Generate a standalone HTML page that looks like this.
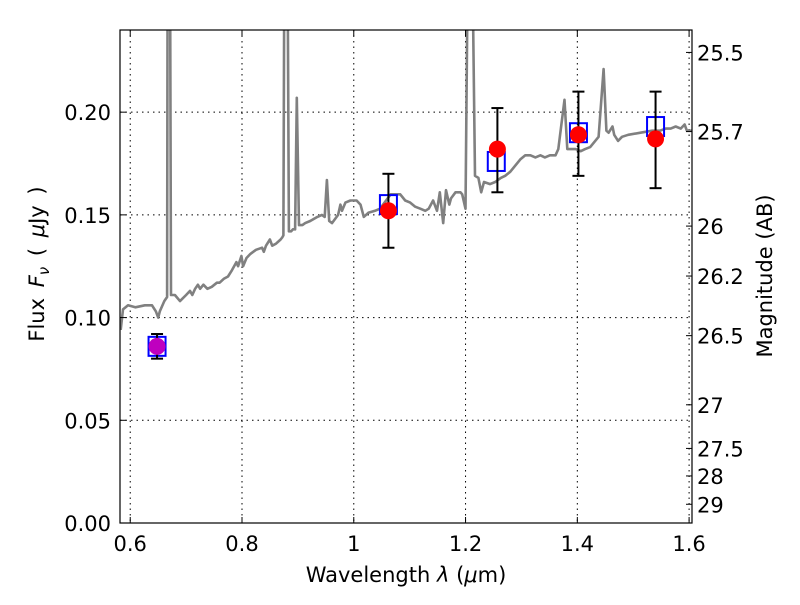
<!DOCTYPE html>
<html><head><meta charset="utf-8"><style>
body{margin:0;background:#fff;}
svg text{font-family:"DejaVu Sans","Liberation Sans",sans-serif;fill:#000;}
</style></head><body>
<svg id="chart" width="800" height="600" xmlns="http://www.w3.org/2000/svg">
<defs><clipPath id="clip"><rect x="120" y="30" width="572" height="493"/></clipPath></defs>
<rect width="800" height="600" fill="#fff"/>
<g id="grid"></g>
<g id="spec" clip-path="url(#clip)"></g>
<g id="marks"></g>
<rect x="120" y="30" width="572" height="493" fill="none" stroke="#000" stroke-width="1.2"/>
<g id="axes"></g>
<text x="406" y="582" font-size="21" text-anchor="middle">Wavelength  <tspan font-style="italic">λ</tspan> (<tspan font-style="italic">μ</tspan>m)</text>
<text transform="translate(44,264) rotate(-90)" font-size="21" text-anchor="middle" word-spacing="4">Flux  <tspan font-style="italic">F</tspan><tspan font-style="italic" font-size="15" dy="5">ν</tspan><tspan dy="-5">  ( </tspan><tspan font-style="italic">μ</tspan>Jy )</text>
<text transform="translate(772,276) rotate(-90)" font-size="21" text-anchor="middle">Magnitude (AB)</text>
</svg>
<script>
const xTicks=[0.6,0.8,1.0,1.2,1.4,1.6];
const xTickLabels=["0.6","0.8","1","1.2","1.4","1.6"];
const yTicks=[0,0.05,0.10,0.15,0.20];
const yTickLabels=["0.00","0.05","0.10","0.15","0.20"];
const magTicks=[25.5,25.7,26,26.2,26.5,27,27.5,28,29];
const magTickLabels=["25.5","25.7","26","26.2","26.5","27","27.5","28","29"];
const spectrum=[[0.583,0.094],[0.587,0.104],[0.596,0.106],[0.609,0.105],[0.626,0.106],[0.639,0.106],[0.646,0.103],[0.650,0.100],[0.653,0.103],[0.661,0.108],[0.666,0.110],[0.667,0.30],[0.671,0.30],[0.673,0.111],[0.680,0.111],[0.689,0.108],[0.700,0.111],[0.707,0.113],[0.711,0.111],[0.716,0.114],[0.721,0.116],[0.725,0.114],[0.731,0.116],[0.738,0.114],[0.746,0.115],[0.755,0.117],[0.760,0.117],[0.768,0.119],[0.775,0.120],[0.782,0.123],[0.790,0.127],[0.793,0.125],[0.799,0.130],[0.802,0.125],[0.808,0.129],[0.815,0.131],[0.825,0.133],[0.836,0.134],[0.839,0.132],[0.843,0.135],[0.850,0.138],[0.854,0.135],[0.861,0.136],[0.869,0.138],[0.872,0.139],[0.874,0.140],[0.876,0.30],[0.881,0.30],[0.884,0.142],[0.888,0.142],[0.891,0.143],[0.895,0.143],[0.898,0.207],[0.902,0.145],[0.908,0.145],[0.913,0.146],[0.922,0.147],[0.935,0.149],[0.943,0.150],[0.948,0.149],[0.952,0.167],[0.956,0.147],[0.961,0.146],[0.972,0.150],[0.976,0.155],[0.979,0.152],[0.985,0.156],[0.994,0.157],[1.005,0.157],[1.012,0.155],[1.018,0.149],[1.026,0.151],[1.038,0.152],[1.047,0.153],[1.055,0.156],[1.066,0.160],[1.083,0.160],[1.092,0.157],[1.101,0.156],[1.110,0.154],[1.119,0.153],[1.128,0.152],[1.134,0.153],[1.142,0.157],[1.149,0.152],[1.154,0.161],[1.160,0.146],[1.165,0.162],[1.171,0.155],[1.174,0.158],[1.182,0.161],[1.191,0.161],[1.194,0.160],[1.200,0.153],[1.205,0.30],[1.211,0.30],[1.217,0.169],[1.223,0.168],[1.228,0.161],[1.233,0.166],[1.244,0.165],[1.253,0.166],[1.263,0.168],[1.271,0.169],[1.280,0.171],[1.289,0.174],[1.298,0.177],[1.307,0.179],[1.316,0.179],[1.325,0.178],[1.334,0.179],[1.342,0.178],[1.351,0.179],[1.361,0.179],[1.366,0.182],[1.377,0.206],[1.382,0.182],[1.388,0.182],[1.397,0.182],[1.406,0.181],[1.414,0.182],[1.423,0.183],[1.438,0.188],[1.447,0.221],[1.452,0.191],[1.456,0.190],[1.463,0.193],[1.466,0.189],[1.473,0.186],[1.480,0.188],[1.491,0.189],[1.513,0.190],[1.534,0.191],[1.548,0.191],[1.558,0.192],[1.567,0.192],[1.576,0.193],[1.585,0.192],[1.592,0.194],[1.596,0.191],[1.607,0.191]];
const obsWave=[0.648,1.062,1.257,1.402,1.540];
const obsFlux=[0.086,0.152,0.182,0.189,0.187];
const obsErrLo=[0.080,0.134,0.161,0.169,0.163];
const obsErrHi=[0.092,0.170,0.202,0.210,0.210];
const obsColor=["#bf00bf","#ff0000","#ff0000","#ff0000","#ff0000"];
const modelWave=[0.648,1.062,1.255,1.402,1.540];
const modelFlux=[0.086,0.155,0.176,0.190,0.193];

const NS="http://www.w3.org/2000/svg";
const X0=0.5817,X1=1.6052,PX0=120,PX1=692,PY0=523,PY1=30,Y1=0.24;
const sx=v=>PX0+(v-X0)/(X1-X0)*(PX1-PX0);
const sy=v=>PY0-v/Y1*(PY0-PY1);
const magToFlux=m=>Math.pow(10,-0.4*(m-23.9));
function el(t,a,p){const e=document.createElementNS(NS,t);for(const k in a)e.setAttribute(k,a[k]);p.appendChild(e);return e;}
const grid=document.getElementById('grid'),axes=document.getElementById('axes'),spec=document.getElementById('spec'),marks=document.getElementById('marks');
xTicks.forEach((v,i)=>{const x=sx(v);
 const g=el('line',{x1:x,x2:x,y1:PY1,y2:PY0,stroke:'#000','stroke-width':1,'stroke-dasharray':'1.5,4'},grid);
 
 
 el('line',{x1:x,x2:x,y1:PY0,y2:PY0-6,stroke:'#000'},axes);
 el('line',{x1:x,x2:x,y1:PY1,y2:PY1+6,stroke:'#000'},axes);
 const t=el('text',{x:x,y:551,'font-size':21,'text-anchor':'middle'},axes);t.textContent=xTickLabels[i];
 
 });
yTicks.forEach((v,i)=>{const y=sy(v);
 const g=el('line',{x1:PX0,x2:PX1,y1:y,y2:y,stroke:'#000','stroke-width':1,'stroke-dasharray':'1.5,4'},grid);
 
 
 el('line',{x1:PX0,x2:PX0+6,y1:y,y2:y,stroke:'#000'},axes);
 const t=el('text',{x:111,y:y+8,'font-size':21,'text-anchor':'end'},axes);t.textContent=yTickLabels[i];
 
 });
magTicks.forEach((m,i)=>{const y=sy(magToFlux(m));
 el('line',{x1:PX1,x2:PX1-6,y1:y,y2:y,stroke:'#000'},axes);
 const t=el('text',{x:697,y:y+8,'font-size':21},axes);t.textContent=magTickLabels[i];
 
 });
const pl=el('polyline',{points:spectrum.map(p=>sx(p[0]).toFixed(1)+','+sy(p[1]).toFixed(1)).join(' '),fill:'none',stroke:'#808080','stroke-width':2.6,'stroke-linejoin':'round'},spec);


modelWave.forEach((w,i)=>{const x=sx(w),y=sy(modelFlux[i]);
 const r=el('rect',{x:x-8.5,y:y-9.5,width:17,height:19,fill:'none',stroke:'#0000ff','stroke-width':2},marks);
 
 });
obsWave.forEach((w,i)=>{const x=sx(w),yl=sy(obsErrLo[i]),yh=sy(obsErrHi[i]);
 const g=el('g',{},marks);
 
 
 el('line',{x1:x,x2:x,y1:yl,y2:yh,stroke:'#000','stroke-width':2},g);
 el('line',{x1:x-6,x2:x+6,y1:yl,y2:yl,stroke:'#000','stroke-width':2},g);
 el('line',{x1:x-6,x2:x+6,y1:yh,y2:yh,stroke:'#000','stroke-width':2},g);
 const c=el('circle',{cx:x,cy:sy(obsFlux[i]),r:8.5,fill:obsColor[i]},marks);
 
 });
</script>
</body></html>
